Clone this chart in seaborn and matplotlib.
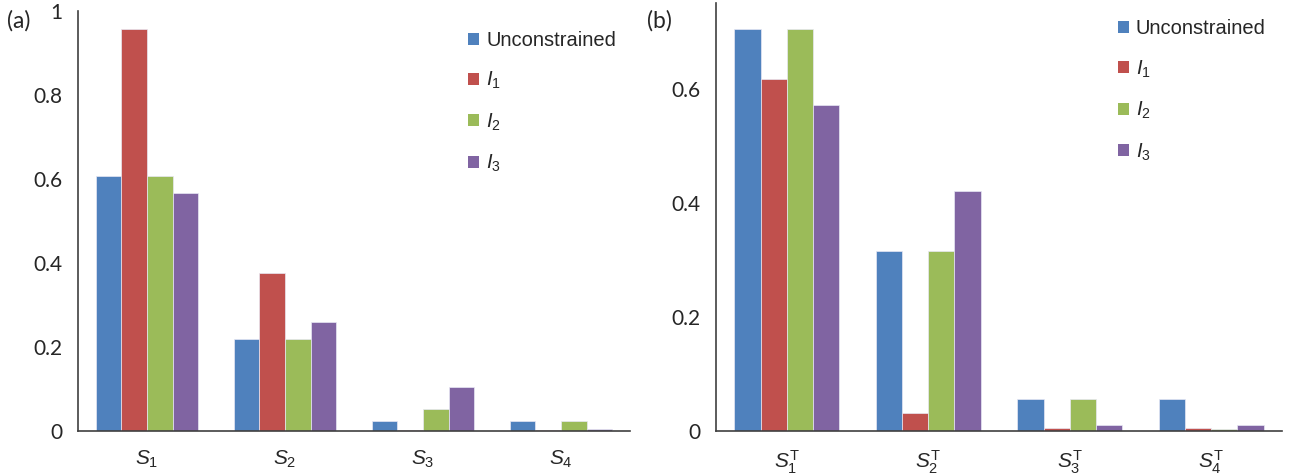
import matplotlib
matplotlib.use("Agg")
import matplotlib.pyplot as plt
import seaborn as sns
import pandas as pd
from matplotlib.ticker import FixedLocator
from matplotlib.patches import Patch

# ---- data ----
series = ["Unconstrained", "I1", "I2", "I3"]
series_labels = ["Unconstrained", r"$I_1$", r"$I_2$", r"$I_3$"]
colors = ["#4F81BD", "#C0504D", "#9BBB59", "#8064A2"]

cats_a = ["S1", "S2", "S3", "S4"]
labels_a = [r"$S_1$", r"$S_2$", r"$S_3$", r"$S_4$"]
unc_a = [0.607, 0.219, 0.024, 0.024]
i1_a = [0.957, 0.376, 0.002, 0.002]
i2_a = [0.607, 0.219, 0.053, 0.024]
i3_a = [0.566, 0.260, 0.104, 0.005]

cats_b = ["S1T", "S2T", "S3T", "S4T"]
labels_b = [r"$S_1^{\mathrm{T}}$", r"$S_2^{\mathrm{T}}$", r"$S_3^{\mathrm{T}}$", r"$S_4^{\mathrm{T}}$"]
unc_b = [0.705, 0.315, 0.0565, 0.0565]
i1_b = [0.616, 0.032, 0.005, 0.005]
i2_b = [0.705, 0.315, 0.0565, 0.004]
i3_b = [0.572, 0.420, 0.0105, 0.0105]

yticks_a = [0, 0.2, 0.4, 0.6, 0.8, 1]
yticklabels_a = ["0", "0.2", "0.4", "0.6", "0.8", "1"]
yticks_b = [0, 0.2, 0.4, 0.6]
yticklabels_b = ["0", "0.2", "0.4", "0.6"]


def long_df(cats, vals):
    rows = []
    for s, v in zip(series, vals):
        for c, x in zip(cats, v):
            rows.append({"cat": c, "series": s, "value": x})
    return pd.DataFrame(rows)


df_a = long_df(cats_a, [unc_a, i1_a, i2_a, i3_a])
df_b = long_df(cats_b, [unc_b, i1_b, i2_b, i3_b])

sns.set_style("white")
plt.rcParams["font.family"] = ["Lato", "DejaVu Sans"]
plt.rcParams["mathtext.fontset"] = "custom"
plt.rcParams["mathtext.it"] = "Liberation Sans:italic"
plt.rcParams["mathtext.rm"] = "Liberation Sans"
plt.rcParams["mathtext.bf"] = "Liberation Sans:bold"

fig = plt.figure(figsize=(13.01, 4.76), dpi=100)
W, H = 1301, 476
ax_a = fig.add_axes([78 / W, 1 - 431 / H, (630 - 78) / W, (431 - 11) / H])
ax_b = fig.add_axes([716 / W, 1 - 431 / H, (1282 - 716) / W, (431 - 3) / H])

spine_col = "#404040"
palette = dict(zip(series, colors))

for ax, df, labels, yt, ytl, ymax, anchor in [
    (ax_a, df_a, labels_a, yticks_a, yticklabels_a, 1.0, (0.707, 0.953)),
    (ax_b, df_b, labels_b, yticks_b, yticklabels_b, 0.75, (0.710, 0.962)),
]:
    sns.barplot(data=df, x="cat", y="value", hue="series", palette=palette,
                saturation=1, width=0.74, edgecolor="#e8e8f4", linewidth=0.5,
                ax=ax, legend=False)
    ax.set_xlim(-0.5, 3.5)
    ax.set_ylim(0, ymax)
    ax.set_xlabel("")
    ax.set_ylabel("")
    ax.set_yticks(yt)
    ax.set_yticklabels(ytl, fontsize=15)
    ax.set_xticks(range(4))
    ax.set_xticklabels(labels, fontsize=15)
    ax.xaxis.set_minor_locator(FixedLocator([-0.5, 0.5, 1.5, 2.5, 3.5]))
    ax.tick_params(axis="x", which="major", length=0, pad=13)
    ax.tick_params(axis="x", which="minor", length=5, width=1, color=spine_col, direction="out")
    ax.tick_params(axis="y", length=5, width=1, color=spine_col, direction="out", pad=6)
    for s in ["top", "right"]:
        ax.spines[s].set_visible(False)
    for s in ["left", "bottom"]:
        ax.spines[s].set_color(spine_col)
        ax.spines[s].set_linewidth(1.2)
    ax.grid(False)

    handles = [Patch(facecolor=c, edgecolor="none") for c in colors]
    ax.legend(handles, series_labels, loc="upper left",
              bbox_to_anchor=anchor,
              frameon=False, handlelength=0.55, handleheight=0.55,
              handletextpad=0.35, labelspacing=1.0, borderaxespad=0, borderpad=0,
              prop={"family": ["Liberation Sans"], "size": 14.5})

fig.text(7 / W, 1 - 21 / H, "(a)", fontsize=16.5, va="center", ha="left")
fig.text(647 / W, 1 - 21 / H, "(b)", fontsize=16.5, va="center", ha="left")

fig.savefig("out.png", dpi=100)
